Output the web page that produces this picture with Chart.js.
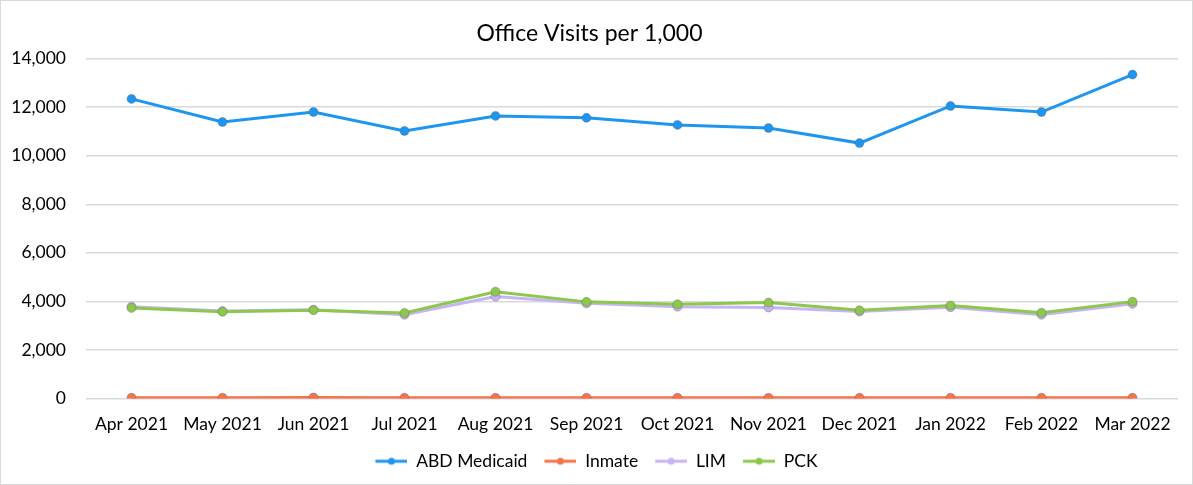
<!DOCTYPE html>
<html>
<head>
<meta charset="utf-8">
<script src="https://cdn.jsdelivr.net/npm/chart.js@4/dist/chart.umd.min.js"></script>
<style>
  html, body { margin: 0; padding: 0; background: #fff; }
  #wrap { position: relative; width: 1191px; height: 483px; border: 1px solid #d9d9d9; }
</style>
</head>
<body>
<div id="wrap"><canvas id="visitsChart"></canvas></div>
<script>
// ======== DATA ========
const months = ["Apr 2021", "May 2021", "Jun 2021", "Jul 2021", "Aug 2021", "Sep 2021",
                "Oct 2021", "Nov 2021", "Dec 2021", "Jan 2022", "Feb 2022", "Mar 2022"];
const abdMedicaid = [12340, 11390, 11800, 11020, 11640, 11560, 11270, 11140, 10520, 12050, 11800, 13340];
const inmate = [30, 30, 40, 30, 30, 30, 30, 30, 30, 30, 30, 30];
const lim = [3780, 3600, 3660, 3450, 4200, 3920, 3780, 3750, 3580, 3760, 3450, 3900];
const pck = [3730, 3570, 3640, 3520, 4400, 3980, 3880, 3950, 3630, 3830, 3530, 3990];
const yTicks = [0, 2000, 4000, 6000, 8000, 10000, 12000, 14000];

const font = "Lato, 'Open Sans', sans-serif";

// ======== LEGEND MARKER (line with dot, blank gap on the left) ========
function legendMarker(color) {
    const c = document.createElement("canvas");
    c.width = 46;
    c.height = 10;
    const ctx = c.getContext("2d");
    ctx.strokeStyle = color;
    ctx.lineWidth = 3;
    ctx.beginPath();
    ctx.moveTo(14, 5);
    ctx.lineTo(46, 5);
    ctx.stroke();
    ctx.fillStyle = color;
    ctx.beginPath();
    ctx.arc(30, 5, 3.5, 0, Math.PI * 2);
    ctx.fill();
    return c;
}

// order: lower value is painted on top (PCK sits over LIM like the original)
function series(label, data, color, order) {
    return {
        label: label,
        data: data,
        order: order,
        borderColor: color,
        backgroundColor: color,
        borderWidth: 3,
        pointRadius: 4.5,
        pointHoverRadius: 5,
        pointBorderWidth: 1,
        pointBorderColor: "rgba(90,90,90,0.35)",
        tension: 0,
    };
}

// ======== LINE CHART ========
new Chart(document.getElementById("visitsChart"), {
    type: "line",
    data: {
        labels: months,
        datasets: [
            series("ABD Medicaid", abdMedicaid, "#1e96f0", 0),
            series("Inmate", inmate, "#f5724b", 1),
            series("LIM", lim, "#c8b4f4", 3),
            series("PCK", pck, "#8cc84b", 2),
        ],
    },
    options: {
        responsive: true,
        maintainAspectRatio: false,
        animation: false,
        layout: { padding: { top: 11, right: 14, bottom: 4, left: 0 } },
        plugins: {
            title: {
                display: true,
                text: "Office Visits per 1,000",
                color: "#000",
                font: { family: font, size: 23, weight: "normal" },
                padding: { top: 8, bottom: 11 },
            },
            legend: {
                position: "bottom",
                labels: {
                    color: "#000",
                    font: { family: font, size: 17.5 },
                    usePointStyle: true,
                    pointStyleWidth: 46,
                    padding: 3,
                    sort: (a, b) => a.datasetIndex - b.datasetIndex,
                    generateLabels: (chart) =>
                        Chart.defaults.plugins.legend.labels.generateLabels(chart).map((item) => {
                            item.pointStyle = legendMarker(chart.data.datasets[item.datasetIndex].borderColor);
                            return item;
                        }),
                },
            },
            tooltip: { enabled: true },
        },
        scales: {
            x: {
                offset: true,
                grid: { display: false, drawTicks: false },
                border: { display: false },
                ticks: {
                    color: "#000",
                    font: { family: font, size: 17.5 },
                    maxRotation: 0,
                    padding: 15,
                },
            },
            y: {
                min: 0,
                max: 14000,
                afterBuildTicks: (axis) => { axis.ticks = yTicks.map((v) => ({ value: v })); },
                afterFit: (axis) => { axis.width = 85; },
                grid: { color: "#d9d9d9", lineWidth: 1.5, drawTicks: false },
                border: { display: false },
                ticks: {
                    color: "#000",
                    font: { family: font, size: 17.5 },
                    padding: 20,
                    callback: (v) => v.toLocaleString("en-US"),
                },
            },
        },
    },
});
</script>
</body>
</html>
